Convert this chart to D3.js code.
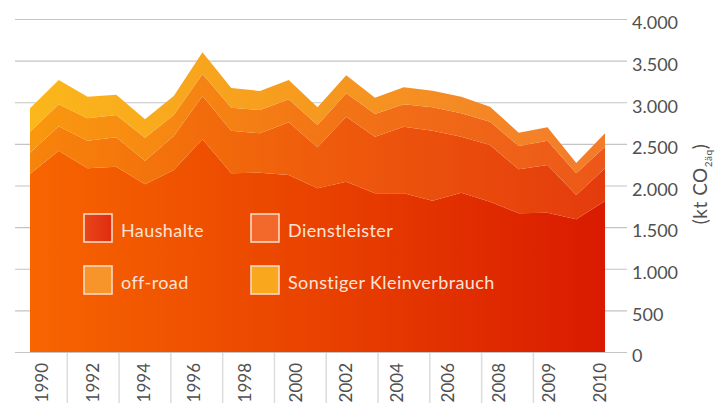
<!DOCTYPE html>
<html lang="de">
<head>
  <meta charset="UTF-8">
  <title>Emissionen Kleinverbraucher</title>
  <script src="https://d3js.org/d3.v7.min.js"></script>
  <style>
    body {
      margin: 0;
      background: #fff;
      font-family: Lato, "Open Sans", sans-serif;
    }
  </style>
</head>
<body>
<svg id="chart" width="719" height="403"></svg>
<script>
// values (kt CO2-Äquivalent)
const years = [1990, 1991, 1992, 1993, 1994, 1995, 1996, 1997, 1998, 1999, 2000,
               2001, 2002, 2003, 2004, 2005, 2006, 2007, 2008, 2009, 2010];
const haushalte     = [2138, 2418, 2207, 2226, 2014, 2186, 2555, 2147, 2154, 2126, 1966,
                       2046, 1906, 1906, 1817, 1914, 1805, 1666, 1673, 1594, 1814];
const dienstleister = [256, 293, 331, 353, 284, 409, 520, 511, 473, 633, 493,
                       780, 680, 800, 841, 672, 681, 529, 573, 292, 393];
const offroad       = [252, 264, 269, 268, 276, 252, 264, 277, 280, 276, 268,
                       281, 273, 269, 281, 281, 280, 279, 292, 261, 259];
const sonstige      = [281, 292, 260, 244, 221, 228, 261, 236, 228, 232, 212,
                       217, 196, 205, 200, 200, 181, 160, 161, 123, 161];

const seriesNames = ["Haushalte", "Dienstleister", "off-road", "Sonstiger Kleinverbrauch"];
const xLabels = ["1990", "1992", "1994", "1996", "1998", "2000", "2002", "2004", "2006", "2008", "2009", "2010"];
const yTicks = [0, 500, 1000, 1500, 2000, 2500, 3000, 3500, 4000];

// gradient stops per layer (left, middle, right)
const layerColors = [
  ["#f76500", "#e94200", "#d91a00"],
  ["#f7840b", "#ef5c0c", "#e43b0d"],
  ["#f9980f", "#f37616", "#ed5719"],
  ["#fbb71b", "#f6991f", "#f37a29"]
];
const legendColors = ["url(#legH)", "#f2692b", "#f7952b", "#f9a71d"];

const rows = years.map((yr, i) => ({
  year: yr,
  "Haushalte": haushalte[i],
  "Dienstleister": dienstleister[i],
  "off-road": offroad[i],
  "Sonstiger Kleinverbrauch": sonstige[i]
}));

const svg = d3.select("#chart");

const x = d3.scalePoint().domain(years).range([30, 605]);
const y = d3.scaleLinear().domain([0, 4000]).range([352, 19]);

const deLocale = d3.formatLocale({ decimal: ",", thousands: ".", grouping: [3], currency: ["", " €"] });
const fmt = deLocale.format(",");

// gradients
const defs = svg.append("defs");
layerColors.forEach((cols, i) => {
  const g = defs.append("linearGradient")
    .attr("id", "grad" + i)
    .attr("gradientUnits", "userSpaceOnUse")
    .attr("x1", 30).attr("x2", 605).attr("y1", 0).attr("y2", 0);
  cols.forEach((c, k) => g.append("stop").attr("offset", k / (cols.length - 1)).attr("stop-color", c));
});
const lg = defs.append("linearGradient").attr("id", "legH");
lg.append("stop").attr("offset", 0).attr("stop-color", "#e9461a");
lg.append("stop").attr("offset", 1).attr("stop-color", "#df2c0f");

// y grid + labels
const yAxis = svg.append("g")
  .attr("transform", "translate(15,0)")
  .call(d3.axisRight(y).tickValues(yTicks).tickSize(612).tickPadding(5).tickFormat(fmt));
yAxis.select(".domain").remove();
yAxis.selectAll(".tick line").attr("stroke", "#c4c4c4").attr("stroke-width", 1.2);
yAxis.selectAll(".tick text")
  .attr("y", 4)
  .attr("fill", "#505050")
  .style("font-family", "Lato, sans-serif")
  .style("font-size", "18px");

// stacked areas
const stack = d3.stack().keys(seriesNames);
const layers = stack(rows);
const area = d3.area()
  .x(d => x(d.data.year))
  .y0(d => y(d[0]))
  .y1(d => y(d[1]));

svg.append("g")
  .selectAll("path")
  .data(layers)
  .join("path")
  .attr("fill", (d, i) => "url(#grad" + i + ")")
  .attr("d", area);

// x labels and separators
const labelPos = d3.scalePoint().domain(xLabels).range([42, 600]);
const sepBand = d3.scaleBand().domain(xLabels).range([15.5, 637]);

svg.append("g")
  .selectAll("line")
  .data(xLabels.slice(1, -1))
  .join("line")
  .attr("x1", d => sepBand(d))
  .attr("x2", d => sepBand(d))
  .attr("y1", 353)
  .attr("y2", 403)
  .attr("stroke", "#dcdcdc")
  .attr("stroke-width", 1.5);

svg.append("g")
  .selectAll("text")
  .data(xLabels)
  .join("text")
  .attr("transform", d => `translate(${labelPos(d)},363) rotate(-90)`)
  .attr("text-anchor", "end")
  .attr("dy", "0.36em")
  .attr("fill", "#505050")
  .style("font-size", "17px")
  .text(d => d);

// y axis title
const title = svg.append("text")
  .attr("transform", "translate(707,184) rotate(-90)")
  .attr("text-anchor", "middle")
  .attr("fill", "#505050")
  .style("font-size", "19px")
  .style("letter-spacing", "0.5px");
title.append("tspan").text("(kt CO");
title.append("tspan").attr("dy", 5).style("font-size", "10px").text("2äq");
title.append("tspan").attr("dy", -5).text(")");

// legend
const legend = svg.append("g");
seriesNames.forEach((name, i) => {
  const col = i % 2, row = Math.floor(i / 2);
  const gx = 84 + col * 167, gy = 214 + row * 52;
  legend.append("rect")
    .attr("x", gx).attr("y", gy)
    .attr("width", 28).attr("height", 28)
    .attr("fill", legendColors[i])
    .attr("stroke", "#fcd8c4")
    .attr("stroke-width", 1.6);
  legend.append("text")
    .attr("x", gx + 37).attr("y", gy + 23)
    .attr("fill", "#fde3d8")
    .style("font-size", "18px")
    .style("letter-spacing", "0.4px")
    .text(name);
});
</script>
</body>
</html>
